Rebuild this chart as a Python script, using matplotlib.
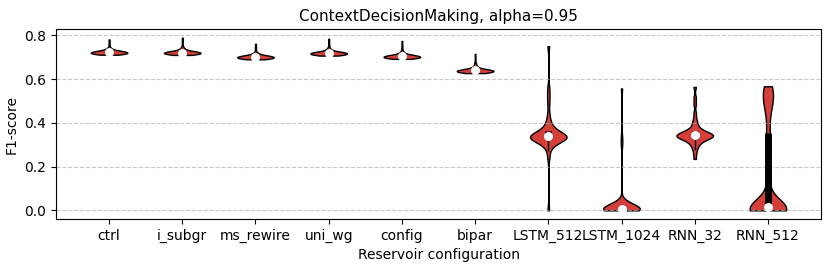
import numpy as np
import matplotlib
matplotlib.use("Agg")
import matplotlib.pyplot as plt

# F1-scores per reservoir configuration
configs = ["ctrl", "i_subgr", "ms_rewire", "uni_wg", "config", "bipar",
           "LSTM_512", "LSTM_1024", "RNN_32", "RNN_512"]

# tight reservoir runs: score value -> number of runs with that score
ctrl_vals = [0.711, 0.713, 0.715, 0.717, 0.719, 0.721, 0.723, 0.725, 0.727, 0.729,
             0.732, 0.735, 0.739, 0.744, 0.750, 0.757, 0.765, 0.773, 0.781]
ctrl_counts = [6, 8, 9, 10, 10, 10, 10, 9, 8, 7, 5, 4, 3, 2, 1, 1, 1, 1, 1]
i_subgr_vals = [0.710, 0.712, 0.714, 0.716, 0.718, 0.720, 0.722, 0.724, 0.726, 0.728,
                0.731, 0.735, 0.740, 0.746, 0.753, 0.761, 0.770, 0.779, 0.789]
i_subgr_counts = [6, 8, 9, 10, 11, 10, 10, 9, 8, 6, 5, 4, 3, 2, 1, 1, 1, 1, 1]
ms_rewire_vals = [0.690, 0.692, 0.694, 0.696, 0.698, 0.700, 0.702, 0.704, 0.706, 0.708,
                  0.711, 0.714, 0.718, 0.723, 0.729, 0.736, 0.744, 0.752, 0.761]
ms_rewire_counts = [6, 8, 9, 10, 10, 10, 10, 9, 8, 7, 5, 4, 3, 2, 1, 1, 1, 1, 1]
uni_wg_vals = [0.707, 0.709, 0.711, 0.713, 0.715, 0.717, 0.719, 0.721, 0.723, 0.725,
               0.728, 0.732, 0.737, 0.743, 0.750, 0.758, 0.766, 0.775, 0.784]
uni_wg_counts = [6, 8, 9, 10, 10, 10, 11, 9, 8, 7, 5, 4, 3, 2, 1, 1, 1, 1, 1]
config_vals = [0.692, 0.694, 0.696, 0.698, 0.700, 0.702, 0.704, 0.706, 0.708, 0.710,
               0.713, 0.717, 0.722, 0.728, 0.735, 0.743, 0.752, 0.763, 0.774]
config_counts = [6, 8, 9, 10, 10, 10, 10, 9, 8, 7, 5, 4, 3, 2, 1, 1, 1, 1, 1]
bipar_vals = [0.627, 0.629, 0.631, 0.633, 0.635, 0.637, 0.639, 0.641, 0.643, 0.645,
              0.648, 0.652, 0.657, 0.663, 0.670, 0.678, 0.688, 0.701, 0.715]
bipar_counts = [6, 8, 9, 10, 10, 10, 10, 9, 8, 7, 5, 4, 3, 2, 2, 1, 1, 1, 1]

# baseline runs, one score per run
lstm_512 = [0.000, 0.240, 0.275, 0.292, 0.302, 0.309, 0.314, 0.318, 0.321, 0.324,
            0.326, 0.328, 0.330, 0.331, 0.332, 0.333, 0.334, 0.335, 0.336, 0.337,
            0.338, 0.339, 0.340, 0.342, 0.344, 0.346, 0.349, 0.352, 0.356, 0.361,
            0.367, 0.374, 0.383, 0.395, 0.410, 0.440, 0.490, 0.525, 0.560, 0.750]
lstm_1024 = [0.0] * 14 + [
    0.001, 0.002, 0.003, 0.004, 0.005, 0.006, 0.007, 0.008, 0.009, 0.010,
    0.011, 0.012, 0.013, 0.014, 0.015, 0.016, 0.018, 0.020, 0.022, 0.025,
    0.028, 0.033, 0.040, 0.300, 0.335, 0.557]
rnn_32 = [0.235, 0.262, 0.280, 0.292, 0.301, 0.308, 0.313, 0.318, 0.322, 0.325,
          0.328, 0.330, 0.332, 0.334, 0.336, 0.337, 0.338, 0.339, 0.341, 0.342,
          0.343, 0.345, 0.347, 0.349, 0.351, 0.353, 0.355, 0.357, 0.359, 0.362,
          0.366, 0.372, 0.380, 0.390, 0.402, 0.418, 0.445, 0.485, 0.515, 0.564]
rnn_512 = [0.0] * 12 + [
    0.002, 0.004, 0.006, 0.008, 0.010, 0.012, 0.014, 0.016, 0.018, 0.020,
    0.030, 0.060, 0.110, 0.160, 0.210, 0.260, 0.300, 0.340,
    0.390, 0.450, 0.475, 0.490, 0.505, 0.520, 0.540, 0.555, 0.562, 0.567]

reservoirs = [np.repeat(v, c) for v, c in [
    (ctrl_vals, ctrl_counts), (i_subgr_vals, i_subgr_counts),
    (ms_rewire_vals, ms_rewire_counts), (uni_wg_vals, uni_wg_counts),
    (config_vals, config_counts), (bipar_vals, bipar_counts)]]
baselines = [lstm_512, lstm_1024, rnn_32, rnn_512]
data = reservoirs + baselines

fig, ax = plt.subplots(figsize=(8.31, 2.69), dpi=100)
fig.subplots_adjust(left=56 / 831, right=821 / 831, bottom=1 - 219 / 269, top=1 - 29 / 269)

inds = np.arange(1, len(data) + 1)
parts_a = ax.violinplot(reservoirs, positions=inds[:len(reservoirs)], showmeans=False,
                        showmedians=False, showextrema=False, bw_method=0.35)
parts_b = ax.violinplot(baselines, positions=inds[len(reservoirs):], showmeans=False,
                        showmedians=False, showextrema=False, bw_method=0.2)
for pc in parts_a["bodies"] + parts_b["bodies"]:
    pc.set_facecolor("#D43F3A")
    pc.set_edgecolor("black")
    pc.set_alpha(1)

q1 = [np.percentile(d, 25) for d in data]
medians = [np.percentile(d, 50) for d in data]
q3 = [np.percentile(d, 75) for d in data]
whisk_lo = [max(a - 1.5 * (b - a), min(d)) for a, b, d in zip(q1, q3, data)]

ax.scatter(inds, medians, marker="o", color="white", s=30, zorder=3)
ax.vlines(inds, q1, q3, color="k", linestyle="-", lw=5)
ax.vlines(inds, whisk_lo, q1, color="k", linestyle="-", lw=1)

ax.set_xticks(inds)
ax.set_xticklabels(configs)
ax.yaxis.grid(True, linestyle="--", alpha=0.7)
ax.set_xlabel("Reservoir configuration")
ax.set_ylabel("F1-score")
ax.set_title("ContextDecisionMaking, alpha=0.95", fontsize=11)

fig.savefig("out.png", dpi=100)
